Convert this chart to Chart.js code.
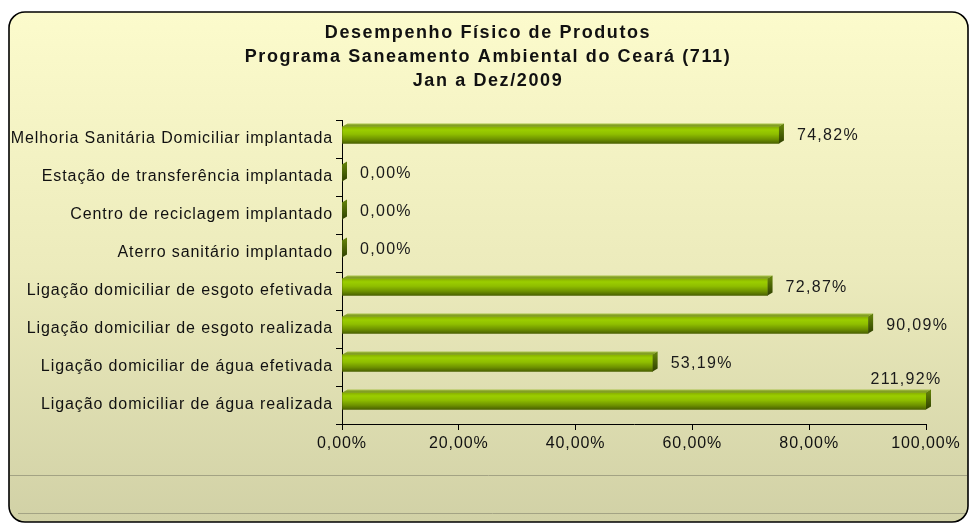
<!DOCTYPE html>
<html lang="pt-BR">
<head>
<meta charset="utf-8">
<title>Desempenho Físico de Produtos</title>
<script src="https://cdn.jsdelivr.net/npm/chart.js@4.4.1/dist/chart.umd.min.js"></script>
<style>
  html, body { margin: 0; padding: 0; background: #fff; }
  canvas { display: block; }
</style>
</head>
<body>
<canvas id="grafico" width="974" height="526"></canvas>
<script>
// Desempenho físico - barras horizontais com efeito 3D (estilo Excel)

const titulo = ['Desempenho Físico de Produtos', 'Programa Saneamento Ambiental do Ceará (711)', 'Jan a Dez/2009'];
const produtos = [
  'Melhoria Sanitária Domiciliar implantada',
  'Estação de transferência implantada',
  'Centro de reciclagem implantado',
  'Aterro sanitário implantado',
  'Ligação domiciliar de esgoto efetivada',
  'Ligação domiciliar de esgoto realizada',
  'Ligação domiciliar de água efetivada',
  'Ligação domiciliar de água realizada'
];
const percentuais = [74.82, 0, 0, 0, 72.87, 90.09, 53.19, 211.92];
const ticksEixo = [0, 20, 40, 60, 80, 100];

const FONTE = "'Liberation Sans', Arial, sans-serif";
const ESPESSURA = 17;   // face frontal da barra
const DESLOC = 4;       // barras ficam um pouco acima do centro da faixa
const PROF_X = 5, PROF_Y = 3;

const formatarPct = (v) => v.toFixed(2).replace('.', ',') + '%';

// fundo com moldura arredondada e as duas linhas de baixo
const fundo = {
  id: 'fundo',
  beforeDraw(chart) {
    const c = chart.ctx;
    c.save();
    const x = 9, y = 12, w = 959, h = 510, r = 16;
    const g = c.createLinearGradient(0, y, 0, y + h);
    g.addColorStop(0, '#fcfbcc');
    g.addColorStop(0.5, '#ecebbc');
    g.addColorStop(1, '#d1d1a6');
    c.beginPath();
    c.roundRect(x, y, w, h, r);
    c.fillStyle = g;
    c.fill();
    c.strokeStyle = '#a3a384';
    c.lineWidth = 1;
    c.beginPath(); c.moveTo(x + 1, 475.5); c.lineTo(x + w - 1, 475.5); c.stroke();
    c.beginPath(); c.moveTo(x + 9, 513.5); c.lineTo(x + w - 1, 513.5); c.stroke();
    c.beginPath();
    c.roundRect(x, y, w, h, r);
    c.strokeStyle = '#000';
    c.lineWidth = 1.6;
    c.stroke();
    c.restore();
    c.letterSpacing = '0.9px';
  },
  afterDraw(chart) {
    chart.ctx.letterSpacing = '0px';
  }
};

// título em três linhas, espaçado como no original
const tituloPlugin = {
  id: 'tituloEspacado',
  afterDraw(chart) {
    const c = chart.ctx;
    c.save();
    c.font = 'bold 18px ' + FONTE;
    c.letterSpacing = '1.6px';
    c.fillStyle = '#111';
    c.textAlign = 'center';
    c.textBaseline = 'alphabetic';
    titulo.forEach((t, i) => c.fillText(t, 488, 38 + i * 24));
    c.restore();
  }
};

// sobe as barras alguns pixels
const deslocar = {
  id: 'deslocar',
  afterDatasetsUpdate(chart) {
    chart.getDatasetMeta(0).data.forEach((el) => { el.y -= DESLOC; });
  }
};

// faces de topo e lateral + rótulos de valor
const barras3d = {
  id: 'barras3d',
  afterDatasetsDraw(chart) {
    const c = chart.ctx;
    const area = chart.chartArea;
    const meta = chart.getDatasetMeta(0);
    c.save();
    meta.data.forEach((el, i) => {
      const x0 = el.base;
      const x1 = Math.min(el.x, area.right);
      const y0 = el.y - ESPESSURA / 2;
      const y1 = el.y + ESPESSURA / 2;
      // topo
      c.beginPath();
      c.moveTo(x0, y0);
      c.lineTo(x0 + PROF_X, y0 - PROF_Y);
      c.lineTo(x1 + PROF_X, y0 - PROF_Y);
      c.lineTo(x1, y0);
      c.closePath();
      const gt = c.createLinearGradient(0, y0 - PROF_Y, 0, y0);
      gt.addColorStop(0, '#a9c24a');
      gt.addColorStop(1, '#6f8c12');
      c.fillStyle = gt;
      c.fill();
      // lateral
      c.beginPath();
      c.moveTo(x1, y0);
      c.lineTo(x1 + PROF_X, y0 - PROF_Y);
      c.lineTo(x1 + PROF_X, y1 - PROF_Y);
      c.lineTo(x1, y1);
      c.closePath();
      const gl = c.createLinearGradient(0, y0, 0, y1);
      gl.addColorStop(0, '#5f7d08');
      gl.addColorStop(1, '#2f4000');
      c.fillStyle = gl;
      c.fill();
    });

    c.font = '16px ' + FONTE;
    c.letterSpacing = '1.3px';
    c.fillStyle = '#1a1a1a';
    c.textBaseline = 'middle';
    meta.data.forEach((el, i) => {
      const v = percentuais[i];
      const fim = Math.min(el.x, area.right);
      if (el.x > area.right) {
        c.textAlign = 'center';
        c.fillText(formatarPct(v), fim - 20, el.y - 21);
      } else {
        c.textAlign = 'left';
        c.fillText(formatarPct(v), fim + 18, el.y + 1);
      }
    });
    c.restore();
  }
};

const gradienteBarra = (context) => {
  const chart = context.chart;
  const y = chart.scales.y;
  const meio = y ? y.getPixelForValue(context.dataIndex) - DESLOC : NaN;
  if (!Number.isFinite(meio)) return '#88b400';
  const g = chart.ctx.createLinearGradient(0, meio - ESPESSURA / 2, 0, meio + ESPESSURA / 2);
  g.addColorStop(0, '#86ad00');
  g.addColorStop(0.2, '#9bce00');
  g.addColorStop(0.45, '#8fbe00');
  g.addColorStop(0.75, '#6e9200');
  g.addColorStop(1, '#4a6100');
  return g;
};

new Chart(document.getElementById('grafico'), {
  type: 'bar',
  data: {
    labels: produtos,
    datasets: [{
      data: percentuais,
      backgroundColor: gradienteBarra,
      borderWidth: 0,
      barThickness: ESPESSURA
    }]
  },
  options: {
    indexAxis: 'y',
    responsive: false,
    animation: false,
    layout: { padding: { left: 10, right: 48, top: 120, bottom: 72 } },
    plugins: {
      legend: { display: false },
      title: { display: false },
      tooltip: { enabled: false }
    },
    scales: {
      x: {
        min: 0,
        max: 100,
        afterBuildTicks: (ax) => { ax.ticks = ticksEixo.map((v) => ({ value: v })); },
        afterFit: (ax) => { ax.height = 30; },
        grid: { drawOnChartArea: false, color: '#000', tickLength: 6 },
        border: { color: '#000', width: 1 },
        ticks: {
          color: '#111',
          padding: 4,
          maxRotation: 0,
          font: { family: FONTE, size: 16 },
          callback: (v) => formatarPct(v)
        }
      },
      y: {
        afterFit: (ax) => { ax.width = 332; },
        grid: { drawOnChartArea: false, color: '#000', tickLength: 6, offset: true },
        border: { color: '#000', width: 1 },
        ticks: {
          color: '#111',
          padding: 3,
          font: { family: FONTE, size: 16 }
        }
      }
    }
  },
  plugins: [fundo, deslocar, barras3d, tituloPlugin]
});
</script>
</body>
</html>
